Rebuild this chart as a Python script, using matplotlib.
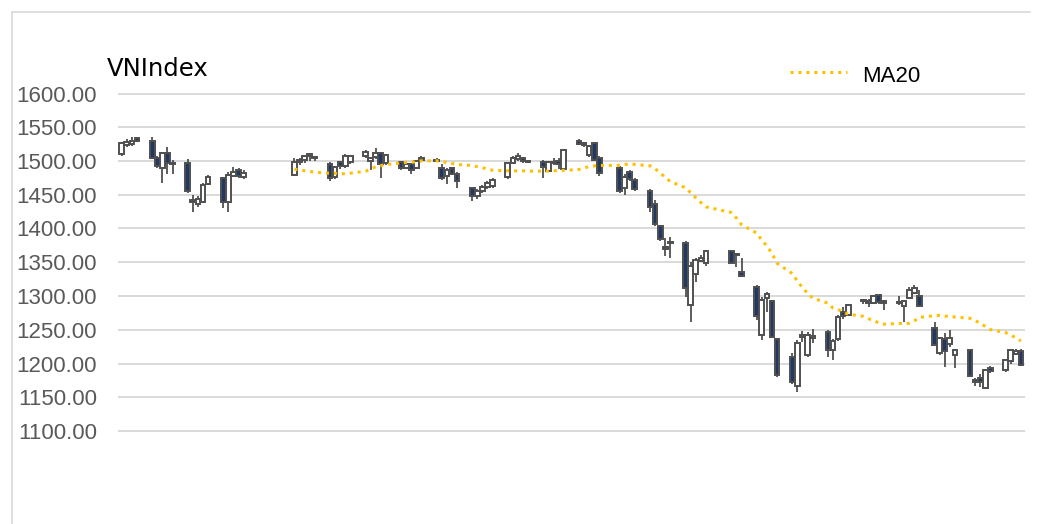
import matplotlib
matplotlib.use("Agg")
import matplotlib.pyplot as plt
import matplotlib.dates as mdates
from matplotlib.lines import Line2D
import numpy as np
import pandas as pd

# ---------------- data ----------------
dates = [
    "2022-01-04", "2022-01-05", "2022-01-06", "2022-01-07",
    "2022-01-10", "2022-01-11", "2022-01-12", "2022-01-13", "2022-01-14",
    "2022-01-17", "2022-01-18", "2022-01-19", "2022-01-20", "2022-01-21",
    "2022-01-24", "2022-01-25", "2022-01-26", "2022-01-27", "2022-01-28",
    "2022-02-07", "2022-02-08", "2022-02-09", "2022-02-10", "2022-02-11",
    "2022-02-14", "2022-02-15", "2022-02-16", "2022-02-17", "2022-02-18",
    "2022-02-21", "2022-02-22", "2022-02-23", "2022-02-24", "2022-02-25",
    "2022-02-28", "2022-03-01", "2022-03-02", "2022-03-03", "2022-03-04",
    "2022-03-07", "2022-03-08", "2022-03-09", "2022-03-10", "2022-03-11",
    "2022-03-14", "2022-03-15", "2022-03-16", "2022-03-17", "2022-03-18",
    "2022-03-21", "2022-03-22", "2022-03-23", "2022-03-24", "2022-03-25",
    "2022-03-28", "2022-03-29", "2022-03-30", "2022-03-31", "2022-04-01",
    "2022-04-04", "2022-04-05", "2022-04-06", "2022-04-07", "2022-04-08",
    "2022-04-12", "2022-04-13", "2022-04-14", "2022-04-15",
    "2022-04-18", "2022-04-19", "2022-04-20", "2022-04-21", "2022-04-22",
    "2022-04-25", "2022-04-26", "2022-04-27", "2022-04-28", "2022-04-29",
    "2022-05-04", "2022-05-05", "2022-05-06",
    "2022-05-09", "2022-05-10", "2022-05-11", "2022-05-12", "2022-05-13",
    "2022-05-16", "2022-05-17", "2022-05-18", "2022-05-19", "2022-05-20",
    "2022-05-23", "2022-05-24", "2022-05-25", "2022-05-26", "2022-05-27",
    "2022-05-30", "2022-05-31", "2022-06-01", "2022-06-02", "2022-06-03",
    "2022-06-06", "2022-06-07", "2022-06-08", "2022-06-09", "2022-06-10",
    "2022-06-13", "2022-06-14", "2022-06-15", "2022-06-16", "2022-06-17",
    "2022-06-20", "2022-06-21", "2022-06-22", "2022-06-23", "2022-06-24",
    "2022-06-27", "2022-06-28", "2022-06-29", "2022-06-30",
]

open_ = [
    1510, 1524, 1525, 1534,
    1529, 1505, 1490, 1512, 1497,
    1497, 1442, 1437, 1440, 1466,
    1475, 1440, 1478, 1486, 1476,
    1480, 1498, 1502, 1507, 1506,
    1496, 1476, 1498, 1492, 1498,
    1507, 1500, 1506, 1512, 1497,
    1498, 1490, 1495, 1490, 1502,
    1502, 1490, 1478, 1489, 1481,
    1460, 1448, 1456, 1461, 1463,
    1476, 1497, 1503, 1505, 1500,
    1499, 1485, 1497, 1500, 1488,
    1530, 1526, 1509, 1526, 1505,
    1490, 1460, 1484, 1472,
    1456, 1436, 1403, 1372, 1378,
    1378, 1287, 1333, 1352, 1349,
    1367, 1362, 1336,
    1314, 1242, 1297, 1292, 1236,
    1209, 1166, 1240, 1213, 1238,
    1247, 1220, 1237, 1277, 1272,
    1292, 1289, 1290, 1301, 1292,
    1290, 1285, 1297, 1305, 1300,
    1252, 1215, 1236, 1229, 1213,
    1220, 1175, 1178, 1164, 1193,
    1190, 1203, 1214, 1219,
]

high = [
    1528, 1532, 1536, 1536,
    1536, 1507, 1514, 1521, 1501,
    1503, 1450, 1448, 1467, 1479,
    1477, 1484, 1491, 1490, 1486,
    1504, 1504, 1509, 1512, 1508,
    1498, 1493, 1500, 1510, 1508,
    1516, 1506, 1520, 1514, 1511,
    1500, 1498, 1497, 1502, 1507,
    1504, 1496, 1490, 1491, 1483,
    1462, 1458, 1465, 1470, 1475,
    1499, 1508, 1512, 1506, 1502,
    1501, 1500, 1505, 1504, 1518,
    1532, 1528, 1524, 1527, 1507,
    1492, 1480, 1486, 1475,
    1458, 1442, 1405, 1386, 1388,
    1382, 1350, 1356, 1360, 1368,
    1368, 1364, 1356,
    1316, 1298, 1306, 1294, 1238,
    1216, 1235, 1248, 1247, 1251,
    1250, 1236, 1272, 1283, 1288,
    1296, 1296, 1302, 1302, 1293,
    1300, 1294, 1314, 1316, 1309,
    1262, 1240, 1245, 1249, 1222,
    1222, 1178, 1185, 1192, 1197,
    1207, 1222, 1221, 1221,
]

low = [
    1508, 1521, 1522, 1528,
    1503, 1489, 1467, 1480, 1480,
    1452, 1425, 1432, 1438, 1464,
    1430, 1425, 1476, 1475, 1473,
    1478, 1494, 1497, 1500, 1500,
    1471, 1473, 1488, 1490, 1495,
    1505, 1487, 1503, 1475, 1494,
    1487, 1488, 1480, 1488, 1499,
    1498, 1472, 1466, 1479, 1460,
    1440, 1443, 1452, 1459, 1460,
    1474, 1495, 1500, 1497, 1497,
    1475, 1483, 1494, 1488, 1486,
    1524, 1521, 1506, 1500, 1478,
    1453, 1450, 1470, 1456,
    1425, 1404, 1381, 1359, 1356,
    1299, 1262, 1320, 1350, 1345,
    1348, 1343, 1328,
    1265, 1235, 1277, 1238, 1180,
    1170, 1158, 1232, 1210, 1231,
    1210, 1205, 1234, 1266, 1270,
    1288, 1283, 1288, 1288, 1279,
    1287, 1262, 1295, 1303, 1283,
    1226, 1212, 1195, 1225, 1193,
    1180, 1167, 1165, 1162, 1186,
    1188, 1200, 1212, 1197,
]

close = [
    1526, 1528, 1530, 1530,
    1505, 1492, 1512, 1497, 1496,
    1455, 1440, 1443, 1465, 1476,
    1440, 1480, 1484, 1478, 1482,
    1499, 1502, 1507, 1510, 1504,
    1475, 1491, 1492, 1508, 1507,
    1513, 1504, 1512, 1496, 1509,
    1490, 1496, 1486, 1500, 1504,
    1500, 1475, 1486, 1481, 1470,
    1448, 1455, 1462, 1467, 1472,
    1497, 1504, 1507, 1500, 1499,
    1491, 1498, 1499, 1495, 1517,
    1525, 1524, 1522, 1502, 1482,
    1455, 1477, 1474, 1458,
    1432, 1407, 1385, 1370, 1380,
    1312, 1344, 1353, 1356, 1366,
    1349, 1361, 1330,
    1270, 1294, 1303, 1240, 1183,
    1173, 1230, 1242, 1242, 1241,
    1220, 1234, 1269, 1270, 1286,
    1294, 1293, 1300, 1291, 1290,
    1291, 1292, 1309, 1312, 1285,
    1227, 1238, 1218, 1238, 1220,
    1182, 1173, 1172, 1190, 1189,
    1205, 1220, 1219, 1198,
]

yticks = [1100, 1150, 1200, 1250, 1300, 1350, 1400, 1450, 1500, 1550, 1600]
title = "VNIndex"
ma_label = "MA20"
ma_period = 20

# ---------------- style ----------------
W, H = 1041, 524
DARK = "#203864"
EDGE = "#505050"
GRID = "#D9D9D9"
GOLD = "#FFC000"

df = pd.DataFrame({"date": pd.to_datetime(dates), "open": open_, "high": high,
                   "low": low, "close": close})
df["ma"] = df["close"].rolling(ma_period).mean()
x = mdates.date2num(df["date"])

fig = plt.figure(figsize=(W / 100, H / 100), dpi=100)
fig.patch.set_facecolor("white")

# axes placement in pixels
ax_l, ax_r, ax_t, ax_b = 118, 1025, 60, 500
ax = fig.add_axes([ax_l / W, (H - ax_b) / H, (ax_r - ax_l) / W, (ax_b - ax_t) / H])
ax.set_facecolor("white")

px_per_unit = 337.5 / 500.0
y_top = 1600 + (93.5 - ax_t) / px_per_unit
y_bot = 1100 - (ax_b - 431) / px_per_unit
ax.set_ylim(y_bot, y_top)

x0 = mdates.date2num(pd.Timestamp("2022-01-04"))
ax.set_xlim(x0 - 0.73, x0 + 177.8)

for s in ax.spines.values():
    s.set_visible(False)

ax.set_yticks(yticks)
ax.set_yticklabels([f"{v:.2f}" for v in yticks])
ax.tick_params(axis="y", length=0, pad=15, labelsize=16, labelcolor="#595959")
for lab in ax.get_yticklabels():
    lab.set_fontfamily("Liberation Sans")
ax.set_xticks([])
for v in yticks:
    ax.axhline(v, color=GRID, lw=1.4, zorder=0)

# wicks
ax.vlines(x, df["low"], df["high"], color=EDGE, lw=1.3, zorder=2)

# bodies
o = df["open"].to_numpy(float)
c = df["close"].to_numpy(float)
bottom = np.minimum(o, c)
height = np.abs(c - o)
height = np.where(height < 0.6, 0.6, height)
colors = np.where(c < o, DARK, "white")
ax.bar(x, height, bottom=bottom, width=0.92, color=colors, edgecolor=EDGE,
       linewidth=1.4, zorder=3)

# MA20 dotted line
ax.plot(x, df["ma"], color=GOLD, lw=2.2, linestyle=(0, (1, 1.6)),
        dash_capstyle="butt", zorder=4)

# title
fig.text(107 / W, (H - 76) / H, title, fontsize=17.5, family="DejaVu Sans",
         color="black", va="baseline", ha="left")

# legend
fig.add_artist(Line2D([790 / W, 847 / W], [(H - 71.5) / H] * 2, color=GOLD, lw=2.2,
                      linestyle=(0, (1, 1.6)), dash_capstyle="butt"))
fig.text(862 / W, (H - 81.5) / H, ma_label, fontsize=16, family="Liberation Sans",
         color="black", va="baseline", ha="left")

# chart area border (left + top)
fig.add_artist(Line2D([12 / W, 12 / W], [0, (H - 12) / H], color=GRID, lw=1.2))
fig.add_artist(Line2D([12 / W, 1030 / W], [(H - 12) / H] * 2, color=GRID, lw=1.2))

fig.savefig("out.png", dpi=100, facecolor="white")
